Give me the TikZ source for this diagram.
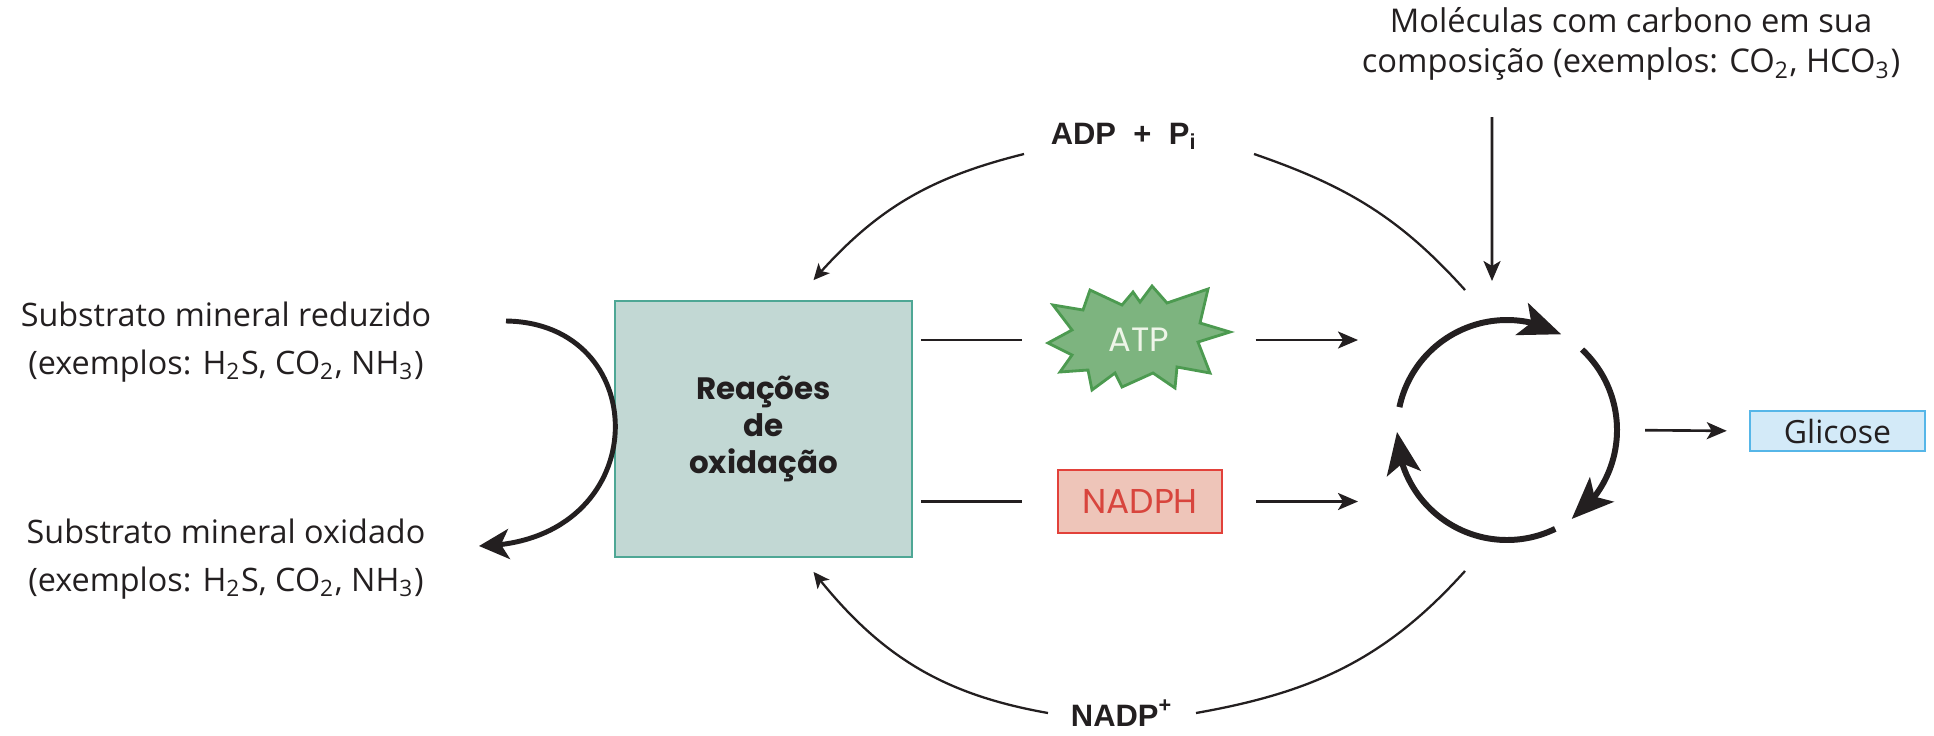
\documentclass[tikz,border=0pt]{standalone}
\usepackage{fontspec}
\setmainfont{Open Sans}
\newfontfamily\geofont{Poppins}
\newfontfamily\headfont{Liberation Sans}
\usetikzlibrary{arrows.meta,bending}

\definecolor{oxfill}{HTML}{C2D8D4}
\definecolor{oxline}{HTML}{4EA795}
\definecolor{atpfill}{HTML}{7DB47F}
\definecolor{atpline}{HTML}{4C9A50}
\definecolor{atptext}{HTML}{EEF5E8}
\definecolor{nadfill}{HTML}{EEC5B9}
\definecolor{nadline}{HTML}{E2413A}
\definecolor{nadtext}{HTML}{D8453D}
\definecolor{glufill}{HTML}{D3EAF8}
\definecolor{gluline}{HTML}{56B6E8}
\definecolor{ink}{HTML}{231F20}

\tikzstyle{substrate}=[align=center,text=ink,inner sep=0pt,font=\fontsize{9.2}{13.5}\selectfont]
\tikzstyle{molecules}=[align=center,text=ink,inner sep=0pt,font=\fontsize{9.3}{11.3}\selectfont]
\tikzstyle{cofactor}=[text=ink,inner sep=0pt,font=\headfont\bfseries\fontsize{8.8}{10}\selectfont]
\tikzstyle{oxbox}=[draw=oxline,fill=oxfill,line width=0.5pt,minimum width=2.97cm,minimum height=2.56cm,align=center,text=ink,font=\geofont\bfseries\fontsize{8.8}{10.5}\selectfont]
\tikzstyle{starburst}=[draw=atpline,fill=atpfill,line width=0.8pt,line join=miter]
\tikzstyle{atpword}=[minimum width=1.82cm,minimum height=1.03cm,inner sep=0pt,text=atptext,font=\geofont\fontsize{9.6}{10}\selectfont]
\tikzstyle{nadphbox}=[draw=nadline,fill=nadfill,line width=0.6pt,minimum width=1.64cm,minimum height=0.63cm,text=nadtext,font=\geofont\fontsize{9.8}{10}\selectfont]
\tikzstyle{glubox}=[draw=gluline,fill=glufill,line width=0.7pt,minimum width=1.75cm,minimum height=0.40cm,inner sep=0pt,text=ink,font=\fontsize{9.1}{10}\selectfont]
\tikzstyle{thinline}=[line width=0.75pt,draw=ink]
\tikzstyle{thinarrow}=[thinline,-{Stealth[length=2mm,width=1.7mm,inset=0.5mm]}]
\tikzstyle{bow}=[line width=0.65pt,draw=ink]
\tikzstyle{bowarrow}=[bow,-{Stealth[length=1.6mm,width=1.5mm,inset=0.4mm]}]
\tikzstyle{bigbow}=[line width=1.4pt,draw=ink,-{Stealth[length=3mm,width=3mm,inset=0.8mm]}]
\tikzstyle{cyclearc}=[line width=1.7pt,draw=ink,-{Stealth[length=4.2mm,width=3.4mm,inset=1mm]}]

\begin{document}
\begin{tikzpicture}
\useasboundingbox (0,0) rectangle (19.34,7.35);

% substrates on the left
\node[substrate] (red) at (2.26,3.93) {Substrato mineral reduzido\\(exemplos: H\textsubscript{2}S, CO\textsubscript{2}, NH\textsubscript{3})};
\node[substrate] (oxi) at (2.26,1.76) {Substrato mineral oxidado\\(exemplos: H\textsubscript{2}S, CO\textsubscript{2}, NH\textsubscript{3})};

\node[oxbox] (box) at (7.635,3.06) {Reações\\de\\oxidação};

% ATP burst
\coordinate (atpc) at (11.39,3.95);
\filldraw[starburst,shift={(atpc)}] (-0.86,0.35) -- (-0.56,0.30) -- (-0.49,0.50) -- (-0.17,0.35)
  -- (-0.06,0.48) -- (0.01,0.38) -- (0.13,0.54) -- (0.28,0.37) -- (0.69,0.51) -- (0.61,0.17)
  -- (0.91,0.08) -- (0.59,-0.02) -- (0.71,-0.33) -- (0.38,-0.27) -- (0.36,-0.48) -- (0.14,-0.33)
  -- (-0.17,-0.47) -- (-0.24,-0.33) -- (-0.47,-0.50) -- (-0.51,-0.30) -- (-0.79,-0.32)
  -- (-0.67,-0.15) -- (-0.91,-0.03) -- (-0.67,0.10) -- cycle;
\node[atpword] (atp) at (atpc) {ATP};

\node[nadphbox] (nadph) at (11.40,2.335) {NADPH};

\node[cofactor] (adp) at (11.24,5.99) {ADP\hspace{2.5pt} + \hspace{2.5pt}P\textsubscript{i}};
\node[cofactor] (nadp) at (11.22,0.22) {NADP\textsuperscript{+}};

\node[circle,minimum size=2.2cm,inner sep=0pt,outer sep=0pt] (calvin) at (15.07,3.05) {};

\node[molecules] (mol) at (16.31,6.91) {Moléculas com carbono em sua\\composição (exemplos: CO\textsubscript{2}, HCO\textsubscript{3})};
\node[glubox] (glu) at (18.375,3.04) {Glicose};

% substrate oxidation
\draw[bigbow] ([shift={(2.80,0.21)}]red.center) .. controls +(1.5,-0.02) and +(1.77,0.02) .. ([shift={(2.53,0.13)}]oxi.center);

% energy and reducing power
\draw[thinline,shorten <=0.08cm,shorten >=0.25cm] (box.east |- atp.west) -- (atp.west);
\draw[thinarrow,shorten <=0.25cm,shorten >=0.39cm] (atp.east) -- (calvin.west |- atp.east);
\draw[thinline,shorten <=0.08cm,shorten >=0.35cm] (box.east |- nadph.west) -- (nadph.west);
\draw[thinarrow,shorten <=0.33cm,shorten >=0.39cm] (nadph.east) -- (calvin.west |- nadph.east);

% recycled cofactors
\draw[bowarrow] ([shift={(-1.00,-0.18)}]adp.center) to[out=194,in=49] ([shift={(0.50,0.20)}]box.north);
\draw[bow] ([shift={(1.30,-0.18)}]adp.center) to[out=-19,in=132] ([shift={(-0.42,1.40)}]calvin.center);
\draw[bowarrow] ([shift={(-0.74,0)}]nadp.center) to[out=170,in=-52] ([shift={(0.50,-0.14)}]box.south);
\draw[bow] ([shift={(0.74,0)}]nadp.center) to[out=10,in=228] ([shift={(-0.42,-1.41)}]calvin.center);

% carbon fixation cycle
\draw[cyclearc] (calvin.168) arc[start angle=168,end angle=60.5,radius=1.1cm];
\draw[cyclearc] (calvin.47) arc[start angle=47,end angle=-54,radius=1.1cm];
\draw[cyclearc] (calvin.-64) arc[start angle=-64,end angle=-179,radius=1.1cm];

\draw[thinarrow] ([shift={(-1.39,-0.73)}]mol.center) -- ([shift={(-0.15,0.39)}]calvin.north);
\draw[thinarrow,shorten <=0.28cm,shorten >=0.22cm] (calvin.east) -- (glu.west);

\end{tikzpicture}
\end{document}
